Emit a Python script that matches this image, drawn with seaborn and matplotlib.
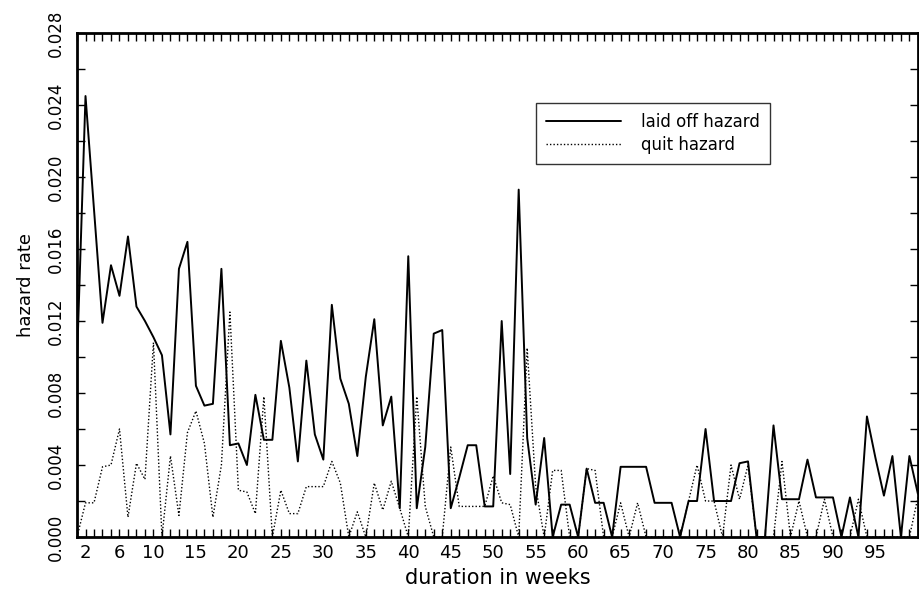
import matplotlib
matplotlib.use("Agg")
import matplotlib.pyplot as plt
from matplotlib.ticker import FixedLocator, MultipleLocator
import pandas as pd
import seaborn as sns

# weekly hazard rates
weeks = list(range(1, 101))

laid_off = [
    0.0098, 0.0245, 0.0182, 0.0119, 0.0151, 0.0134, 0.0167, 0.0128, 0.0120, 0.0111,
    0.0101, 0.0057, 0.0149, 0.0164, 0.0084, 0.0073, 0.0074, 0.0149, 0.0051, 0.0052,
    0.0040, 0.0079, 0.0054, 0.0054, 0.0109, 0.0083, 0.0042, 0.0098, 0.0057, 0.0043,
    0.0129, 0.0088, 0.0074, 0.0045, 0.0089, 0.0121, 0.0062, 0.0078, 0.0016, 0.0156,
    0.0016, 0.0050, 0.0113, 0.0115, 0.0016, 0.0033, 0.0051, 0.0051, 0.0017, 0.0017,
    0.0120, 0.0035, 0.0193, 0.0055, 0.0018, 0.0055, 0.0000, 0.0018, 0.0018, 0.0000,
    0.0038, 0.0019, 0.0019, 0.0000, 0.0039, 0.0039, 0.0039, 0.0039, 0.0019, 0.0019,
    0.0019, 0.0000, 0.0020, 0.0020, 0.0060, 0.0020, 0.0020, 0.0020, 0.0041, 0.0042,
    0.0000, 0.0000, 0.0062, 0.0021, 0.0021, 0.0021, 0.0043, 0.0022, 0.0022, 0.0022,
    0.0000, 0.0022, 0.0000, 0.0067, 0.0044, 0.0023, 0.0045, 0.0000, 0.0045, 0.0024,
]

quit_rate = [
    0.0000, 0.0019, 0.0019, 0.0039, 0.0040, 0.0060, 0.0011, 0.0041, 0.0032, 0.0108,
    0.0000, 0.0045, 0.0012, 0.0058, 0.0070, 0.0052, 0.0011, 0.0040, 0.0125, 0.0026,
    0.0025, 0.0013, 0.0078, 0.0000, 0.0026, 0.0013, 0.0013, 0.0028, 0.0028, 0.0028,
    0.0042, 0.0030, 0.0000, 0.0014, 0.0000, 0.0030, 0.0015, 0.0031, 0.0016, 0.0000,
    0.0078, 0.0017, 0.0000, 0.0000, 0.0050, 0.0017, 0.0017, 0.0017, 0.0017, 0.0034,
    0.0019, 0.0018, 0.0000, 0.0105, 0.0028, 0.0000, 0.0037, 0.0037, 0.0000, 0.0000,
    0.0038, 0.0037, 0.0000, 0.0000, 0.0019, 0.0000, 0.0019, 0.0000, 0.0000, 0.0000,
    0.0000, 0.0000, 0.0020, 0.0040, 0.0020, 0.0020, 0.0000, 0.0040, 0.0021, 0.0040,
    0.0000, 0.0000, 0.0000, 0.0042, 0.0000, 0.0020, 0.0000, 0.0000, 0.0021, 0.0000,
    0.0000, 0.0000, 0.0021, 0.0000, 0.0000, 0.0000, 0.0000, 0.0000, 0.0000, 0.0022,
]

x_tick_values = [2, 6, 10, 15, 20, 25, 30, 35, 40, 45, 50, 55, 60, 65, 70, 75, 80, 85, 90, 95]
y_tick_values = [0.000, 0.004, 0.008, 0.012, 0.016, 0.020, 0.024, 0.028]
y_tick_labels = ["0.000", "0.004", "0.008", "0.012", "0.016", "0.020", "0.024", "0.028"]

df = pd.DataFrame({"week": weeks, "laid off hazard": laid_off, "quit hazard": quit_rate})

sns.set_style("ticks")
plt.rcParams['font.family'] = ['DejaVu Sans']
plt.rcParams['text.color'] = 'black'
plt.rcParams['axes.labelcolor'] = 'black'
plt.rcParams['xtick.color'] = 'black'
plt.rcParams['ytick.color'] = 'black'

fig = plt.figure(figsize=(9.19, 5.90), dpi=100)
ax = fig.add_axes([0.0838, 0.0898, 0.9150, 0.8542])

sns.lineplot(data=df, x="week", y="laid off hazard", color="black",
             linewidth=1.4, ax=ax, label="laid off hazard")
sns.lineplot(data=df, x="week", y="quit hazard", color="black",
             linewidth=1.0, linestyle=(0, (1, 1.5)), ax=ax, label="quit hazard")

ax.set_xlim(1, 100)
ax.set_ylim(0, 0.028)

ax.xaxis.set_major_locator(FixedLocator(x_tick_values))
ax.xaxis.set_minor_locator(MultipleLocator(1))
ax.set_xticklabels([str(v) for v in x_tick_values], fontsize=13)
ax.yaxis.set_major_locator(FixedLocator(y_tick_values))
ax.yaxis.set_minor_locator(MultipleLocator(0.002))
ax.set_yticklabels(y_tick_labels, fontsize=12, rotation=90, va="center")

ax.tick_params(axis="both", which="both", direction="in", top=True, right=True,
               length=6, width=1.0, color="black", labelcolor="black")
ax.tick_params(axis="x", which="major", pad=5)
ax.tick_params(axis="y", which="major", pad=9)

for spine in ax.spines.values():
    spine.set_linewidth(2.0)
    spine.set_color("black")

ax.set_xlabel("duration in weeks", fontsize=15, labelpad=4, color="black")
ax.set_ylabel("hazard rate", fontsize=13, labelpad=8, color="black")

leg = ax.legend(loc="upper left", bbox_to_anchor=(0.546, 0.861), borderaxespad=0,
                frameon=True, fancybox=False, edgecolor="black", fontsize=12,
                handlelength=4.5, handletextpad=1.2, borderpad=0.6, labelspacing=0.3)
leg.get_frame().set_linewidth(1.0)
for txt in leg.get_texts():
    txt.set_color("black")

fig.savefig("out.png", dpi=100)
